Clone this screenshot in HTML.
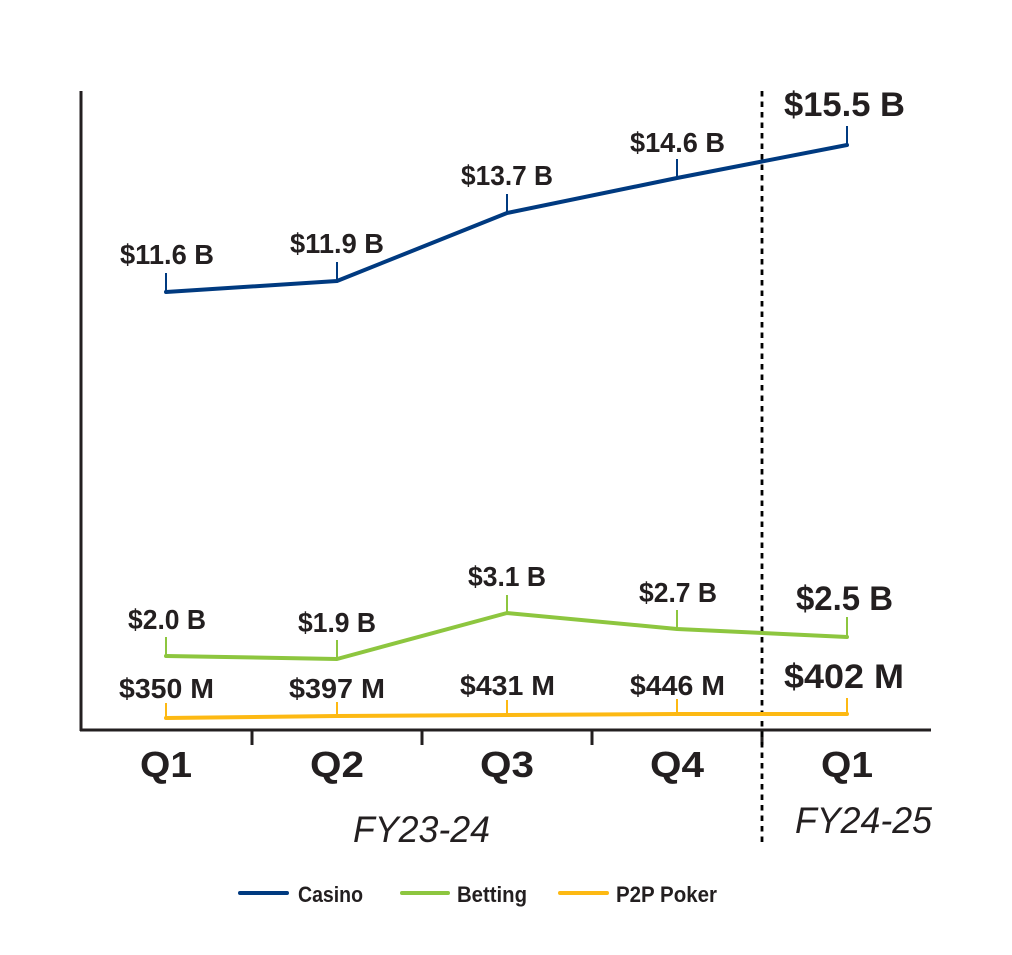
<!DOCTYPE html>
<html>
<head>
<meta charset="utf-8">
<style>
  html,body{margin:0;padding:0;background:#fff;}
  svg{display:block;}
  text{font-family:"Liberation Sans",sans-serif;fill:#231f20;}
  .lbl{font-size:28px;font-weight:bold;}
  .big{font-size:34px;font-weight:bold;}
  .q{font-size:36px;font-weight:bold;}
  .fy{font-size:37px;font-style:italic;}
  .lg{font-size:22px;font-weight:bold;}
</style>
</head>
<body>
<svg width="1012" height="955" viewBox="0 0 1012 955" xmlns="http://www.w3.org/2000/svg">
  <rect width="1012" height="955" fill="#fff"/>
  <!-- axes -->
  <line x1="81" y1="91" x2="81" y2="731" stroke="#231f20" stroke-width="3"/>
  <line x1="80" y1="730" x2="931" y2="730" stroke="#231f20" stroke-width="3"/>
  <!-- x ticks -->
  <g stroke="#231f20" stroke-width="3">
    <line x1="252" y1="730" x2="252" y2="745"/>
    <line x1="422" y1="730" x2="422" y2="745"/>
    <line x1="592" y1="730" x2="592" y2="745"/>
    <line x1="762" y1="730" x2="762" y2="745"/>
  </g>
  <!-- dashed divider -->
  <line x1="762" y1="91" x2="762" y2="842" stroke="#000" stroke-width="2.8" stroke-dasharray="5.5,5"/>

  <!-- Casino -->
  <g stroke="#003a80" fill="none">
    <polyline points="166,292 337,281 507,213 677,178 847,145" stroke-width="4" stroke-linejoin="round" stroke-linecap="round"/>
    <line x1="166" y1="292" x2="166" y2="273" stroke-width="2"/>
    <line x1="337" y1="281" x2="337" y2="262" stroke-width="2"/>
    <line x1="507" y1="213" x2="507" y2="194" stroke-width="2"/>
    <line x1="677" y1="178" x2="677" y2="159" stroke-width="2"/>
    <line x1="847" y1="145" x2="847" y2="126" stroke-width="2"/>
  </g>
  <!-- Betting -->
  <g stroke="#8dc63f" fill="none">
    <polyline points="166,656 337,659 507,613 677,629 847,637" stroke-width="4" stroke-linejoin="round" stroke-linecap="round"/>
    <line x1="166" y1="656" x2="166" y2="637" stroke-width="2"/>
    <line x1="337" y1="659" x2="337" y2="640" stroke-width="2"/>
    <line x1="507" y1="613" x2="507" y2="595" stroke-width="2"/>
    <line x1="677" y1="629" x2="677" y2="610" stroke-width="2"/>
    <line x1="847" y1="637" x2="847" y2="617" stroke-width="2"/>
  </g>
  <!-- Poker -->
  <g stroke="#fdb913" fill="none">
    <polyline points="166,718 337,716 507,715 677,714 847,714" stroke-width="4" stroke-linejoin="round" stroke-linecap="round"/>
    <line x1="166" y1="718" x2="166" y2="703" stroke-width="2"/>
    <line x1="337" y1="716" x2="337" y2="702" stroke-width="2"/>
    <line x1="507" y1="715" x2="507" y2="700" stroke-width="2"/>
    <line x1="677" y1="714" x2="677" y2="699" stroke-width="2"/>
    <line x1="847" y1="714" x2="847" y2="698" stroke-width="2"/>
  </g>

  <!-- Casino labels -->
  <text class="lbl" x="120" y="264" textLength="94" lengthAdjust="spacingAndGlyphs">$11.6 B</text>
  <text class="lbl" x="290" y="253" textLength="94" lengthAdjust="spacingAndGlyphs">$11.9 B</text>
  <text class="lbl" x="461" y="185" textLength="92" lengthAdjust="spacingAndGlyphs">$13.7 B</text>
  <text class="lbl" x="630" y="152" textLength="95" lengthAdjust="spacingAndGlyphs">$14.6 B</text>
  <text class="big" x="784" y="116" textLength="121" lengthAdjust="spacingAndGlyphs">$15.5 B</text>

  <!-- Betting labels -->
  <text class="lbl" x="128" y="629" textLength="78" lengthAdjust="spacingAndGlyphs">$2.0 B</text>
  <text class="lbl" x="298" y="632" textLength="78" lengthAdjust="spacingAndGlyphs">$1.9 B</text>
  <text class="lbl" x="468" y="586" textLength="78" lengthAdjust="spacingAndGlyphs">$3.1 B</text>
  <text class="lbl" x="639" y="602" textLength="78" lengthAdjust="spacingAndGlyphs">$2.7 B</text>
  <text class="big" x="796" y="610" textLength="97" lengthAdjust="spacingAndGlyphs">$2.5 B</text>

  <!-- Poker labels -->
  <text class="lbl" x="119" y="698" textLength="95" lengthAdjust="spacingAndGlyphs">$350 M</text>
  <text class="lbl" x="289" y="698" textLength="96" lengthAdjust="spacingAndGlyphs">$397 M</text>
  <text class="lbl" x="460" y="695" textLength="95" lengthAdjust="spacingAndGlyphs">$431 M</text>
  <text class="lbl" x="630" y="695" textLength="95" lengthAdjust="spacingAndGlyphs">$446 M</text>
  <text class="big" x="784" y="688" textLength="120" lengthAdjust="spacingAndGlyphs">$402 M</text>

  <!-- Quarter labels -->
  <text class="q" x="140" y="777" textLength="52" lengthAdjust="spacingAndGlyphs">Q1</text>
  <text class="q" x="310" y="777" textLength="54" lengthAdjust="spacingAndGlyphs">Q2</text>
  <text class="q" x="480" y="777" textLength="54" lengthAdjust="spacingAndGlyphs">Q3</text>
  <text class="q" x="650" y="777" textLength="54" lengthAdjust="spacingAndGlyphs">Q4</text>
  <text class="q" x="821" y="777" textLength="52" lengthAdjust="spacingAndGlyphs">Q1</text>

  <!-- FY labels -->
  <text class="fy" x="353" y="842" textLength="137" lengthAdjust="spacingAndGlyphs">FY23-24</text>
  <text class="fy" x="795" y="833" textLength="137" lengthAdjust="spacingAndGlyphs">FY24-25</text>

  <!-- Legend -->
  <g stroke-width="4" stroke-linecap="round">
    <line x1="240" y1="893" x2="287" y2="893" stroke="#003a80"/>
    <line x1="402" y1="893" x2="448" y2="893" stroke="#8dc63f"/>
    <line x1="560" y1="893" x2="607" y2="893" stroke="#fdb913"/>
  </g>
  <text class="lg" x="298" y="902" textLength="65" lengthAdjust="spacingAndGlyphs">Casino</text>
  <text class="lg" x="457" y="902" textLength="70" lengthAdjust="spacingAndGlyphs">Betting</text>
  <text class="lg" x="616" y="902" textLength="101" lengthAdjust="spacingAndGlyphs">P2P Poker</text>
</svg>
</body>
</html>
